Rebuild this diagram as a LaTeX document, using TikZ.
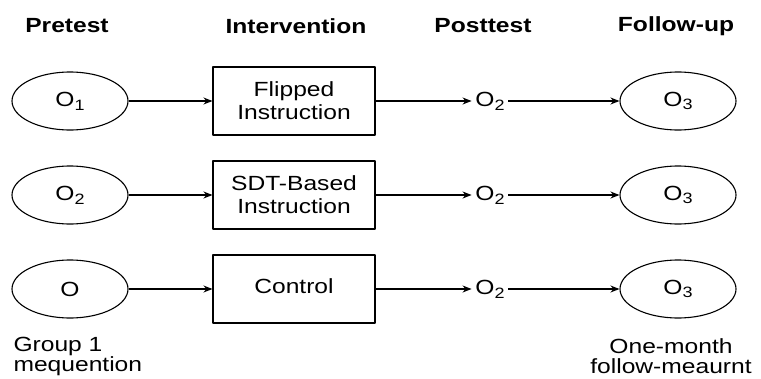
\documentclass[tikz,border=0pt]{standalone}
\usepackage{fontspec}
\setmainfont{Liberation Sans}[FakeStretch=1.2]
\usetikzlibrary{shapes.geometric,arrows.meta}
\newcommand\idx[1]{\raisebox{-0.35ex}{\fontsize{15}{15}\selectfont #1}}
\begin{document}
\begin{tikzpicture}[x=1pt,y=-1pt,>={Stealth[length=9pt,width=7pt]}, line width=1.1pt, line join=round,
	font=\fontsize{20.5}{20}\selectfont,
	obs/.style={draw,ellipse,minimum width=116pt,minimum height=58pt,inner sep=0pt},
	trt/.style={draw,rectangle,minimum width=162pt,minimum height=68pt,align=center,inner sep=2pt,font=\fontsize{20.5}{23}\selectfont},
	head/.style={font=\fontsize{20.5}{20}\selectfont\bfseries}]
			\useasboundingbox (0,0) rectangle (761,378);
			\node[head] (hPre) at (67,26) {Pretest};
			\node[head] (hInt) at (296,26) {Intervention};
			\node[head] (hPost) at (483,26) {Posttest};
			\node[head] (hFol) at (676,26) {Follow-up};
			\foreach \r/\y/\p/\t in {1/101/{O\idx{1}}/{Flipped\\Instruction},2/195/{O\idx{2}}/{SDT-Based\\Instruction},3/289/O/{\raisebox{5pt}{Control}}}
			{
			\node[obs] (pre\r) at (70,\y) {\p};
			\node[trt] (int\r) at (294,\y) {\t};
			\node (post\r) at (490,\y) {O\idx{2}};
			\node[obs] (fol\r) at (678,\y) {O\idx{3}};
			\draw[->] (pre\r)--(int\r);
			\draw[->] (int\r)--(post\r);
			\draw[->] (post\r)--(fol\r);
			}
			\node[anchor=west,align=left,inner sep=1pt] (grp) at (12,356) {Group 1\\mequention};
			\node[align=center,inner sep=1pt] (mon) at (671,356) {One-month\\follow-meaurnt};
		\end{tikzpicture}
\end{document}
